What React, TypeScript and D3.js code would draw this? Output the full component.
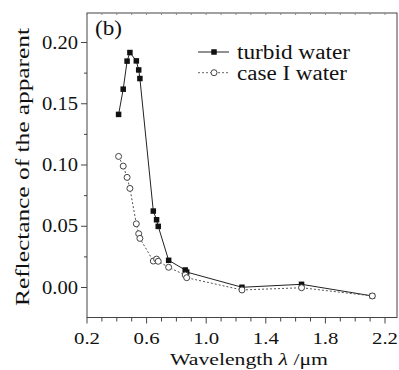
import React from "react";
import * as d3 from "d3";

const wavelengths = [0.412, 0.443, 0.469, 0.488, 0.531, 0.547, 0.555, 0.645, 0.667, 0.678, 0.748, 0.859, 0.869, 1.24, 1.64, 2.115];
const turbidWater = [0.1413, 0.1619, 0.1848, 0.1918, 0.185, 0.1776, 0.1706, 0.0624, 0.0553, 0.0499, 0.0222, 0.0143, 0.0126, 0.0002, 0.0026, -0.0069];
const caseIWater = [0.107, 0.0991, 0.0899, 0.0809, 0.052, 0.0439, 0.0401, 0.0216, 0.0232, 0.0214, 0.0165, 0.0102, 0.008, -0.002, -0.0002, -0.0069];
const xTickLabels = ["0.2", "0.6", "1.0", "1.4", "1.8", "2.2"];
const yTickLabels = ["0.00", "0.05", "0.10", "0.15", "0.20"];
const seriesNames = ["turbid water", "case I water"];

const W = 399, H = 370;
const L = 87, R = 397, T = 13, B = 317.5;
const FONT = "'Liberation Serif', 'Times New Roman', serif";

export default function App() {
  const x = d3.scaleLinear().domain([0.2, 2.2]).range([L, 385]);
  const y = d3.scaleLinear().domain([0, 0.2]).range([287.5, 42.5]);
  const xMinor = d3.range(0.2, 2.2001, 0.1);
  const yMinor = d3.range(-0.0, 0.2001, 0.025);
  const line = d3.line<number>().x((_, i) => x(wavelengths[i])).y((d) => y(d));
  const turb = turbidWater;
  const c1 = caseIWater;
  return (
    <svg width={W} height={H} style={{ position: "absolute", left: 0, top: 0, background: "#fff" }}>
      <rect x={L} y={T} width={R - L} height={B - T} fill="none" stroke="#444" strokeWidth={1} />
      {xMinor.map((v, i) => {
        const major = Math.abs(((v - 0.2) / 0.4) - Math.round((v - 0.2) / 0.4)) < 1e-6;
        return (
          <g key={"xt" + i}>
            <line x1={x(v)} x2={x(v)} y1={B} y2={B + (major ? 6 : 4)} stroke="#444" />
            <line x1={x(v)} x2={x(v)} y1={T} y2={T + 2} stroke="#888" />
          </g>
        );
      })}
      {yMinor.map((v, i) => {
        const major = i % 2 === 0;
        return <line key={"yt" + i} x1={L - (major ? 6 : 3)} x2={L} y1={y(v)} y2={y(v)} stroke="#444" />;
      })}
      {xTickLabels.map((t) => (
        <text key={t} x={x(+t)} y={344} textAnchor="middle" fontFamily={FONT} fontSize={17.5} textLength={26} lengthAdjust="spacingAndGlyphs" fill="#111">{t}</text>
      ))}
      {yTickLabels.map((t) => (
        <text key={t} x={78} y={y(+t) + 6} textAnchor="end" fontFamily={FONT} fontSize={18} textLength={36} lengthAdjust="spacingAndGlyphs" fill="#111">{t}</text>
      ))}
      <text x={249} y={364.5} textAnchor="middle" fontFamily={FONT} fontSize={17.5} textLength={158} lengthAdjust="spacingAndGlyphs" fill="#111">Wavelength <tspan fontStyle="italic">λ</tspan> /μm</text>
      <text transform={`translate(29,167) rotate(-90)`} textAnchor="middle" fontFamily={FONT} fontSize={19} textLength={278} lengthAdjust="spacingAndGlyphs" fill="#111">Reflectance of the apparent</text>
      <text x={95} y={35} fontFamily={FONT} fontSize={20} textLength={27} lengthAdjust="spacingAndGlyphs" fill="#111">(b)</text>

      <path d={line(turb) || ""} fill="none" stroke="#222" strokeWidth={1} />
      {turb.map((v, i) => (
        <rect key={"s" + i} x={x(wavelengths[i]) - 2.75} y={y(v) - 2.75} width={5.5} height={5.5} fill="#111" />
      ))}
      <path d={line(c1) || ""} fill="none" stroke="#555" strokeWidth={1} strokeDasharray="2,2" />
      {c1.map((v, i) => (
        <circle key={"c" + i} cx={x(wavelengths[i])} cy={y(v)} r={3} fill="#fff" stroke="#444" strokeWidth={1} />
      ))}

      <line x1={198} x2={229} y1={52} y2={52} stroke="#222" />
      <rect x={214 - 2.75} y={52 - 2.75} width={5.5} height={5.5} fill="#111" />
      <text x={237} y={59} fontFamily={FONT} fontSize={20} textLength={113} lengthAdjust="spacingAndGlyphs" fill="#111">{seriesNames[0]}</text>
      <line x1={198} x2={229} y1={72.7} y2={72.7} stroke="#666" strokeDasharray="2,2" />
      <circle cx={214} cy={72.7} r={3} fill="#fff" stroke="#444" />
      <text x={237} y={79.5} fontFamily={FONT} fontSize={20} textLength={110} lengthAdjust="spacingAndGlyphs" fill="#111">{seriesNames[1]}</text>
    </svg>
  );
}
